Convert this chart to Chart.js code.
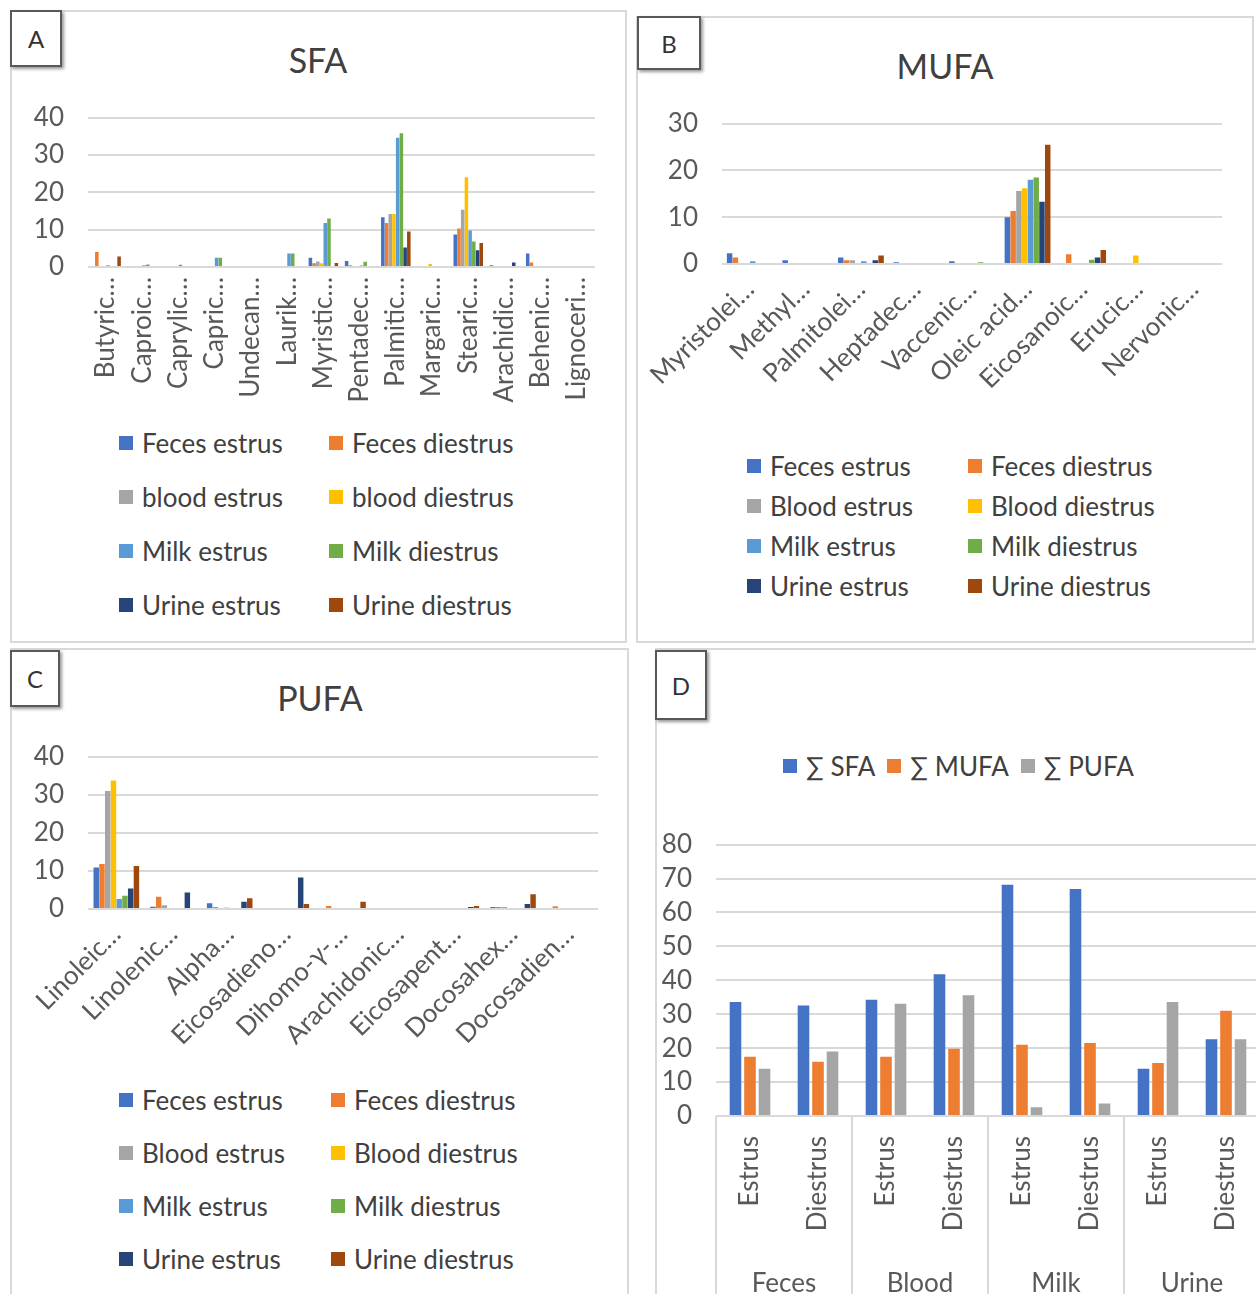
<!DOCTYPE html>
<html>
<head>
<meta charset="utf-8">
<script src="https://cdn.jsdelivr.net/npm/chart.js@4.4.0/dist/chart.umd.min.js"></script>
<style>
html, body { margin:0; padding:0; background:#fff; overflow:hidden; }
body { width:1256px; height:1294px; position:relative; font-family:Lato, 'Open Sans', sans-serif; color:#404040; }
.panel { position:absolute; border:2px solid #d9d9d9; box-sizing:border-box; }
.tag { position:absolute; border:2px solid #595959; box-shadow:2px 2px 3px #999; background:#fff; font-size:24px; display:flex; align-items:center; justify-content:center; box-sizing:border-box; color:#333; }
.title { position:absolute; font-size:34px; line-height:40px; transform:translateX(-50%); white-space:nowrap; }
.chart { position:absolute; }
.legend { position:absolute; display:grid; font-size:26px; }
.legend .item { display:flex; align-items:center; white-space:nowrap; }
.legend .sw { width:14px; height:14px; margin-right:9px; flex:none; }
#legD { display:flex; }
#legD .item { margin-right:12px; }
</style>
</head>
<body>
<div class="panel" style="left:10px;top:10px;width:617px;height:633px"></div>
<div class="panel" style="left:636px;top:16px;width:618px;height:627px"></div>
<div class="panel" style="left:10px;top:648px;width:619px;height:670px"></div>
<div class="panel" style="left:655px;top:648px;width:620px;height:670px"></div>

<div class="tag" style="left:10px;top:10px;width:52px;height:57px">A</div>
<div class="tag" style="left:637px;top:16px;width:64px;height:54px">B</div>
<div class="tag" style="left:10px;top:650px;width:50px;height:57px">C</div>
<div class="tag" style="left:655px;top:650px;width:52px;height:70px">D</div>

<div class="title" style="left:318px;top:40px">SFA</div>
<div class="title" style="left:945px;top:46px">MUFA</div>
<div class="title" style="left:320px;top:678px">PUFA</div>

<canvas id="chartA" class="chart" width="617" height="332" style="left:10px;top:78px"></canvas>
<canvas id="chartB" class="chart" width="618" height="326" style="left:636px;top:84px"></canvas>
<canvas id="chartC" class="chart" width="619" height="343" style="left:10px;top:717px"></canvas>
<canvas id="chartD" class="chart" width="620" height="505" style="left:655px;top:805px"></canvas>

<div id="legA" class="legend" style="left:119px;top:416px;grid-template-columns:210px 210px;grid-auto-rows:54px"></div>
<div id="legB" class="legend" style="left:747px;top:446px;grid-template-columns:221px 221px;grid-auto-rows:40px"></div>
<div id="legC" class="legend" style="left:119px;top:1073px;grid-template-columns:212px 212px;grid-auto-rows:53px"></div>
<div id="legD" class="legend" style="left:783px;top:746px;height:40px"></div>

<script>
// SFA panel
const sfaLabels = ['Butyric…', 'Caproic…', 'Caprylic…', 'Capric…', 'Undecan…', 'Laurik…', 'Myristic…',
  'Pentadec…', 'Palmitic…', 'Margaric…', 'Stearic…', 'Arachidic…', 'Behenic…', 'Lignoceri…'];
const sfaNames = ['Feces estrus', 'Feces diestrus', 'blood estrus', 'blood diestrus',
  'Milk estrus', 'Milk diestrus', 'Urine estrus', 'Urine diestrus'];
const sfaFecesEstrus   = [0, 0, 0, 0, 0, 0, 2.5, 1.6, 13.3, 0, 8.7, 0.5, 3.6, 0];
const sfaFecesDiestrus = [4, 0, 0, 0, 0, 0, 1, 0.5, 11.8, 0, 10.3, 0, 1.2, 0];
const sfaBloodEstrus   = [0, 0, 0, 0, 0, 0, 1.5, 0, 14.2, 0, 15.3, 0, 0, 0];
const sfaBloodDiestrus = [0, 0, 0, 0, 0, 0, 1, 0, 14.2, 0.8, 24, 0, 0, 0];
const sfaMilkEstrus    = [0.5, 0.5, 0.6, 2.5, 0, 3.6, 11.8, 0.4, 34.6, 0, 9.8, 0, 0, 0];
const sfaMilkDiestrus  = [0, 0.7, 0.3, 2.5, 0, 3.6, 13, 1.4, 35.8, 0, 6.8, 0, 0, 0];
const sfaUrineEstrus   = [0, 0, 0, 0, 0, 0, 0.3, 0, 5.2, 0, 4.5, 1.2, 0, 0];
const sfaUrineDiestrus = [2.8, 0, 0, 0, 0, 0, 1.1, 0, 9.5, 0, 6.4, 0, 0, 0];

// MUFA panel
const mufaLabels = ['Myristolei…', 'Methyl…', 'Palmitolei…', 'Heptadec…', 'Vaccenic…',
  'Oleic acid…', 'Eicosanoic…', 'Erucic…', 'Nervonic…'];
const mufaNames = ['Feces estrus', 'Feces diestrus', 'Blood estrus', 'Blood diestrus',
  'Milk estrus', 'Milk diestrus', 'Urine estrus', 'Urine diestrus'];
const mufaFecesEstrus   = [2.3, 0.8, 1.4, 0.4, 0.6, 10, 0, 0, 0];
const mufaFecesDiestrus = [1.4, 0, 0.8, 0, 0, 11.3, 2.1, 0, 0];
const mufaBloodEstrus   = [0, 0, 0.8, 0, 0, 15.6, 0, 0, 0];
const mufaBloodDiestrus = [0, 0, 0, 0, 0, 16.2, 0, 1.8, 0];
const mufaMilkEstrus    = [0.6, 0, 0.6, 0, 0, 18, 0, 0, 0];
const mufaMilkDiestrus  = [0, 0, 0, 0, 0.4, 18.5, 0.9, 0, 0];
const mufaUrineEstrus   = [0, 0, 0.8, 0, 0, 13.3, 1.4, 0, 0];
const mufaUrineDiestrus = [0, 0, 1.8, 0, 0, 25.5, 3, 0, 0];

// PUFA panel
const pufaLabels = ['Linoleic…', 'Linolenic…', 'Alpha…', 'Eicosadieno…', 'Dihomo-γ-…',
  'Arachidonic…', 'Eicosapent…', 'Docosahex…', 'Docosadien…'];
const pufaNames = mufaNames;
const pufaFecesEstrus   = [10.9, 0.6, 1.5, 0, 0, 0, 0, 0.5, 0];
const pufaFecesDiestrus = [11.8, 3.2, 0.5, 0, 0.8, 0, 0, 0.5, 0.7];
const pufaBloodEstrus   = [31, 1, 0, 0, 0, 0, 0, 0.5, 0];
const pufaBloodDiestrus = [33.7, 0, 0.4, 0, 0, 0, 0, 0, 0];
const pufaMilkEstrus    = [2.6, 0, 0, 0, 0, 0, 0, 0, 0];
const pufaMilkDiestrus  = [3.5, 0, 0, 0, 0, 0, 0, 0, 0];
const pufaUrineEstrus   = [5.4, 4.3, 1.9, 8.3, 0, 0, 0.5, 1.3, 0];
const pufaUrineDiestrus = [11.3, 0, 2.8, 1.3, 1.9, 0, 0.8, 3.9, 0];

// totals panel
const phaseLabels = ['Estrus', 'Diestrus', 'Estrus', 'Diestrus', 'Estrus', 'Diestrus', 'Estrus', 'Diestrus'];
const sourceLabels = ['Feces', 'Blood', 'Milk', 'Urine'];
const totalNames = ['∑ SFA', '∑ MUFA', '∑ PUFA'];
const totalSFA  = [33.6, 32.6, 34.3, 41.8, 68.2, 66.9, 13.9, 22.6];
const totalMUFA = [17.5, 16, 17.5, 19.8, 21, 21.5, 15.6, 31];
const totalPUFA = [13.9, 19, 33.1, 35.6, 2.6, 3.7, 33.6, 22.6];

const palette = ['#4472C4', '#ED7D31', '#A5A5A5', '#FFC000', '#5B9BD5', '#70AD47', '#264478', '#9E480E'];
const gridColor = '#d9d9d9';
const tickFont = { size: 26 };

Chart.defaults.font.family = "Lato, 'Open Sans', sans-serif";
Chart.defaults.color = '#595959';

function buildLegend(id, datasets) {
  const box = document.getElementById(id);
  datasets.forEach(ds => {
    const item = document.createElement('div');
    item.className = 'item';
    const sw = document.createElement('span');
    sw.className = 'sw';
    sw.style.background = ds.backgroundColor;
    item.appendChild(sw);
    item.appendChild(document.createTextNode(ds.label));
    box.appendChild(item);
  });
}

function yScale(max, width) {
  return {
    min: 0, max: max,
    grid: { color: gridColor, lineWidth: 2, drawTicks: false },
    border: { display: false },
    ticks: { stepSize: 10, autoSkip: false, font: tickFont, padding: 24 },
    afterFit: s => { s.width = width; }
  };
}

function barChart(id, labels, series, names, o) {
  const datasets = series.map((vals, i) => ({
    label: names[i], data: vals, backgroundColor: palette[i],
    categoryPercentage: o.cat, barPercentage: o.bar, xAxisID: 'x'
  }));
  new Chart(document.getElementById(id), {
    type: 'bar',
    data: { labels: labels, datasets: datasets },
    options: {
      responsive: false,
      animation: false,
      layout: { padding: { top: 0, right: o.right, left: 0, bottom: 0 } },
      plugins: { legend: { display: false }, tooltip: { enabled: false } },
      scales: {
        x: {
          grid: { display: false },
          border: { display: false },
          ticks: { autoSkip: false, minRotation: o.rot, maxRotation: o.rot, font: tickFont, padding: 2 },
          afterFit: s => { s.height = o.xh; }
        },
        y: yScale(o.max, o.yw)
      }
    }
  });
  buildLegend(o.legend, datasets);
}

barChart('chartA', sfaLabels,
  [sfaFecesEstrus, sfaFecesDiestrus, sfaBloodEstrus, sfaBloodDiestrus,
   sfaMilkEstrus, sfaMilkDiestrus, sfaUrineEstrus, sfaUrineDiestrus],
  sfaNames, { cat: 0.82, bar: 0.95, rot: 90, max: 40, xh: 143, yw: 78, right: 32, legend: 'legA' });

barChart('chartB', mufaLabels,
  [mufaFecesEstrus, mufaFecesDiestrus, mufaBloodEstrus, mufaBloodDiestrus,
   mufaMilkEstrus, mufaMilkDiestrus, mufaUrineEstrus, mufaUrineDiestrus],
  mufaNames, { cat: 0.83, bar: 0.95, rot: 45, max: 30, xh: 146, yw: 86, right: 32, legend: 'legB' });

barChart('chartC', pufaLabels,
  [pufaFecesEstrus, pufaFecesDiestrus, pufaBloodEstrus, pufaBloodDiestrus,
   pufaMilkEstrus, pufaMilkDiestrus, pufaUrineEstrus, pufaUrineDiestrus],
  pufaNames, { cat: 0.81, bar: 0.95, rot: 45, max: 40, xh: 151, yw: 78, right: 31, legend: 'legC' });

// panel D: totals with a two-level category axis
const totalSets = [totalSFA, totalMUFA, totalPUFA].map((vals, i) => ({
  label: totalNames[i], data: vals, backgroundColor: palette[i],
  categoryPercentage: 0.64, barPercentage: 0.8, xAxisID: 'x'
}));
new Chart(document.getElementById('chartD'), {
  type: 'bar',
  data: { labels: phaseLabels, datasets: totalSets },
  options: {
    responsive: false,
    animation: false,
    layout: { padding: { top: 0, right: 15, left: 0, bottom: 0 } },
    plugins: { legend: { display: false }, tooltip: { enabled: false } },
    scales: {
      x: {
        weight: 0,
        grid: {
          drawOnChartArea: false, tickLength: 144, lineWidth: 2, offset: true,
          color: ctx => ctx.index % 2 === 0 ? gridColor : 'rgba(0,0,0,0)'
        },
        border: { display: false },
        ticks: { autoSkip: false, minRotation: 90, maxRotation: 90, font: tickFont, padding: -124 },
        afterFit: s => { s.height = 144; }
      },
      x2: {
        type: 'category', labels: sourceLabels, position: 'bottom', offset: true, weight: 1,
        grid: { drawOnChartArea: false, tickLength: 50, lineWidth: 2, offset: true, color: gridColor },
        border: { display: false },
        ticks: { autoSkip: false, maxRotation: 0, font: tickFont, padding: -42 },
        afterFit: s => { s.height = 50; }
      },
      y: yScale(80, 61)
    }
  }
});
buildLegend('legD', totalSets);
</script>
</body>
</html>
